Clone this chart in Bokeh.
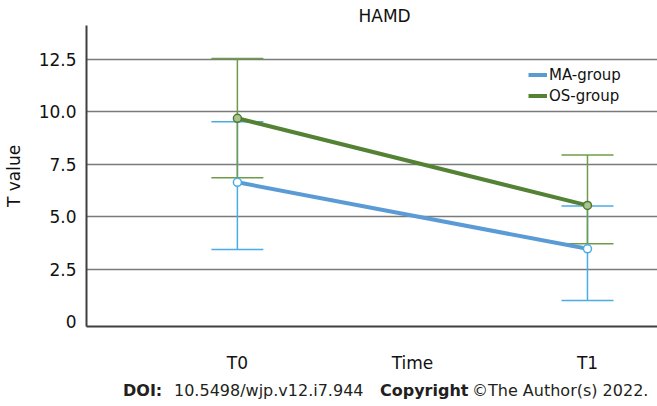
from bokeh.plotting import figure
from bokeh.models import (ColumnDataSource, Whisker, TeeHead, Legend, LegendItem,
                          FixedTicker, Range1d, Div)
from bokeh.layouts import column
from bokeh.embed import file_html
from bokeh.resources import INLINE

# ---- data ----
times = ["T0", "T1"]
x_tick_labels = ["T0", "Time", "T1"]
y_ticks = [0, 2.5, 5, 7.5, 10, 12.5]
y_tick_labels = ["0", "2.5", "5.0", "7.5", "10.0", "12.5"]

ma_mean = [6.65, 3.48]
ma_upper = [9.53, 5.52]
ma_lower = [3.45, 1.02]

os_mean = [9.70, 5.55]
os_upper = [12.55, 7.95]
os_lower = [6.87, 3.72]

series_names = ["MA-group", "OS-group"]
chart_title = "HAMD"
footer_parts = [("DOI:", "bold"), ("10.5498/wjp.v12.i7.944", "normal"),
                ("Copyright", "bold"), ("\u00a9The Author(s) 2022.", "normal")]

FONT = "DejaVu Sans"
MA_LINE = "#5b9bd5"
MA_ERR = "#4aade6"
OS_LINE = "#548235"
OS_ERR = "#6f9c48"
OS_MARK = "#4f7a30"

x_idx = list(range(len(times)))
x_ticks = [x_idx[0], (x_idx[0] + x_idx[1]) / 2, x_idx[1]]

p = figure(width=657, height=375, output_backend="svg", toolbar_location=None,
           x_range=Range1d(-0.431, 1.2), y_range=Range1d(-0.22, 14.12),
           min_border_left=86, min_border_right=0, min_border_top=25,
           min_border_bottom=44)
p.outline_line_color = None
p.background_fill_color = "white"
p.border_fill_color = "white"

# title
p.title.text = chart_title
p.title.align = "left"
p.title.offset = 272
p.title.standoff = 0
p.title.text_font = FONT
p.title.text_font_size = "17px"
p.title.text_font_style = "normal"
p.title.text_color = "#111111"

# axes
p.xaxis.ticker = FixedTicker(ticks=x_ticks)
p.xaxis.major_label_overrides = {t: l for t, l in zip(x_ticks, x_tick_labels)}
p.yaxis.ticker = FixedTicker(ticks=y_ticks)
p.yaxis.major_label_overrides = {t: l for t, l in zip(y_ticks, y_tick_labels)}
for ax in (p.xaxis[0], p.yaxis[0]):
    ax.major_tick_line_color = None
    ax.minor_tick_line_color = None
    ax.major_tick_out = 0
    ax.major_tick_in = 0
    ax.minor_tick_out = 0
    ax.minor_tick_in = 0
    ax.axis_line_color = "#3f3f3f"
    ax.axis_line_width = 2
    ax.major_label_text_font = FONT
    ax.major_label_text_font_size = "17px"
    ax.major_label_text_color = "#111111"
p.xaxis.major_label_standoff = 26
p.yaxis.major_label_standoff = 10
p.yaxis.axis_label = "T value"
p.yaxis.axis_label_text_font = FONT
p.yaxis.axis_label_text_font_size = "17px"
p.yaxis.axis_label_text_font_style = "normal"
p.yaxis.axis_label_text_color = "#111111"
p.yaxis.axis_label_standoff = 12

p.xgrid.grid_line_color = None
p.ygrid.ticker = FixedTicker(ticks=y_ticks[1:])
p.ygrid.grid_line_color = "#7a7a7a"
p.ygrid.grid_line_width = 1.3

# MA group
ma_src = ColumnDataSource(dict(x=x_idx, mean=ma_mean, upper=ma_upper, lower=ma_lower))
ma_wh = Whisker(source=ma_src, base="x", upper="upper", lower="lower",
                line_color=MA_ERR, line_width=1.5,
                upper_head=TeeHead(size=52, line_color=MA_ERR, line_width=1.5),
                lower_head=TeeHead(size=52, line_color=MA_ERR, line_width=1.5))
p.add_layout(ma_wh)
ma_line = p.line("x", "mean", source=ma_src, line_color=MA_LINE, line_width=4)
p.scatter("x", "mean", source=ma_src, marker="circle", size=8,
          line_color=MA_ERR, fill_color="white", line_width=1.5)

# OS group
os_src = ColumnDataSource(dict(x=x_idx, mean=os_mean, upper=os_upper, lower=os_lower))
os_wh = Whisker(source=os_src, base="x", upper="upper", lower="lower",
                line_color=OS_ERR, line_width=1.5,
                upper_head=TeeHead(size=52, line_color=OS_ERR, line_width=1.5),
                lower_head=TeeHead(size=52, line_color=OS_ERR, line_width=1.5))
p.add_layout(os_wh)
os_line = p.line("x", "mean", source=os_src, line_color=OS_LINE, line_width=4)
p.scatter("x", "mean", source=os_src, marker="circle", size=8,
          line_color=OS_MARK, fill_color="#a9c48f", line_width=1.5)

legend = Legend(items=[LegendItem(label=series_names[0], renderers=[ma_line]),
                       LegendItem(label=series_names[1], renderers=[os_line])],
                location=(442, 220))
legend.border_line_color = None
legend.background_fill_alpha = 0
legend.padding = 0
legend.margin = 0
legend.spacing = 0
legend.glyph_width = 19
legend.glyph_height = 21
legend.label_height = 21
legend.label_standoff = 2
legend.label_text_font = FONT
legend.label_text_font_size = "15px"
legend.label_text_color = "#111111"
p.add_layout(legend, "center")

# footer
lefts = [123, 174, 380, 472]
spans = "".join(
    f'<span style="position:absolute;left:{lx}px;top:5px;font-weight:{st}">{txt}</span>'
    for (txt, st), lx in zip(footer_parts, lefts))
footer = Div(text=f'<div style="position:relative;width:657px;height:31px;'
                  f'font-family:\'DejaVu Sans\';font-size:16px;color:#231f20;'
                  f'white-space:nowrap;overflow:hidden">{spans}</div>',
             width=657, height=31, margin=0)

layout = column(p, footer, spacing=0)
open("out.html", "w").write(file_html(layout, INLINE))
